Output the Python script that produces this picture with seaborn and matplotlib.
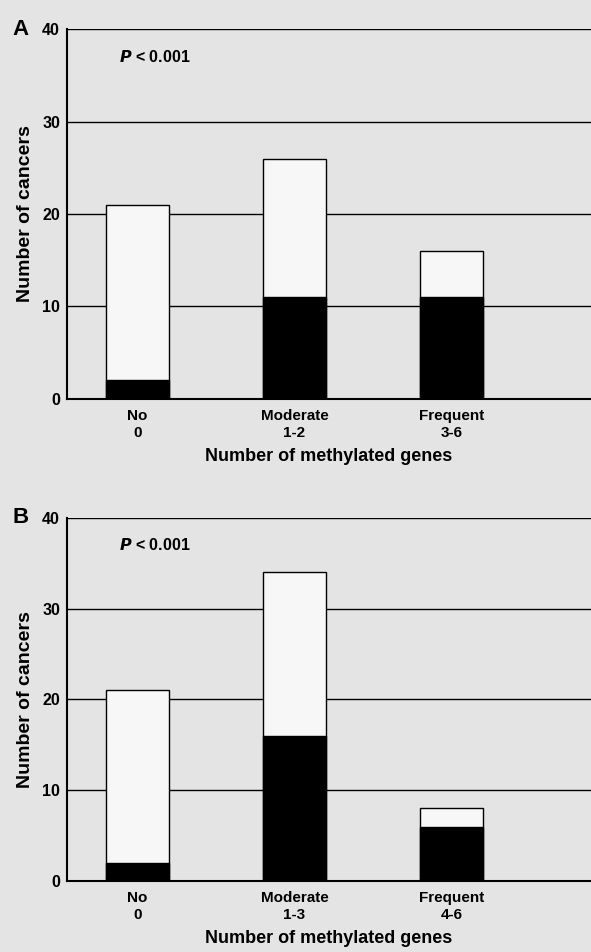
import matplotlib
matplotlib.use("Agg")
import matplotlib.pyplot as plt
import seaborn as sns
import pandas as pd

categories_a = ["No\n0", "Moderate\n1-2", "Frequent\n3-6"]
total_a = [21, 26, 16]
black_a = [2, 11, 11]

categories_b = ["No\n0", "Moderate\n1-3", "Frequent\n4-6"]
total_b = [21, 34, 8]
black_b = [2, 16, 6]

yticks = [0, 10, 20, 30, 40]
panel_labels = ["A", "B"]

sns.set_theme(style="white")
plt.rcParams["font.family"] = ["Liberation Sans", "DejaVu Sans"]
plt.rcParams["font.weight"] = "bold"
for k in ["text.color", "axes.labelcolor", "xtick.color", "ytick.color"]:
    plt.rcParams[k] = "black"

bg = "#e4e4e4"
fig = plt.figure(figsize=(5.91, 9.52), dpi=100, facecolor=bg)
axA = fig.add_axes([0.1134, 0.5809, 0.8866, 0.3886])
axB = fig.add_axes([0.1134, 0.0746, 0.8866, 0.3813])

for ax, cats, tot, blk, lab in [(axA, categories_a, total_a, black_a, panel_labels[0]),
                                (axB, categories_b, total_b, black_b, panel_labels[1])]:
    ax.set_facecolor(bg)
    df = pd.DataFrame({"cat": cats, "total": tot, "black": blk})
    for y in yticks[1:]:
        ax.axhline(y, color="black", lw=1.0, zorder=0)
    sns.barplot(data=df, x="cat", y="total", color="#f7f7f7", edgecolor="black",
                linewidth=1.0, width=0.40, ax=ax, zorder=2, saturation=1)
    sns.barplot(data=df, x="cat", y="black", color="black", edgecolor="black",
                linewidth=1.0, width=0.40, ax=ax, zorder=3, saturation=1)
    ax.set_xlim(-0.45, 2.89)
    ax.set_ylim(0, 40)
    ax.set_yticks(yticks)
    ax.set_yticklabels([str(v) for v in yticks], fontsize=11.5, fontweight="bold")
    ax.tick_params(axis="y", length=0, pad=5)
    ax.tick_params(axis="x", length=0, pad=7, labelsize=11)
    for t in ax.get_xticklabels():
        t.set_fontweight("bold")
        t.set_linespacing(1.3)
    for s in ["top", "right"]:
        ax.spines[s].set_visible(False)
    for s in ["left", "bottom"]:
        ax.spines[s].set_color("black")
        ax.spines[s].set_linewidth(1.5)
    ax.set_xlabel("Number of methylated genes", fontsize=13, fontweight="bold", labelpad=6)
    ax.set_ylabel("Number of cancers", fontsize=14, fontweight="bold", labelpad=6)
    ax.text(0.1, 0.925, r"$\mathbfit{P}$ < 0.001", transform=ax.transAxes,
            fontsize=11.5, fontweight="bold", ha="left", va="center")
    ax.text(-0.105, 1.0, lab, transform=ax.transAxes, fontsize=16,
            fontweight="bold", ha="left", va="center")

fig.savefig("out.png", dpi=100, facecolor=bg)
